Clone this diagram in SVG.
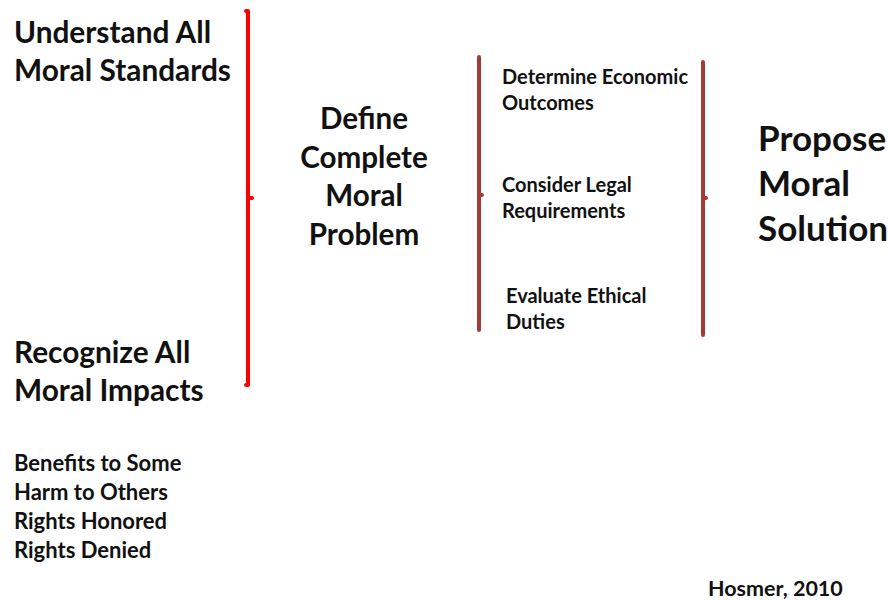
<svg xmlns="http://www.w3.org/2000/svg" width="888" height="600" viewBox="0 0 888 600">
<style>
text{font-family:Lato,"Open Sans","Liberation Sans",sans-serif;font-weight:bold;fill:#111}
.l{font-size:29.8px}
.c{font-size:29.6px;text-anchor:middle}
.s{font-size:20px}
.b{font-size:35px}
.m{font-size:22px}
.h{font-size:21.5px}
.red{stroke:#ff0000;stroke-width:4;fill:none;stroke-linecap:round;stroke-linejoin:round}
.br{stroke:#a33a3a;stroke-width:4;fill:none;stroke-linecap:round;stroke-linejoin:round}
</style>
<rect width="888" height="600" fill="#fff"/>
<g id="connectors">
<path class="red" d="M246 11 L248 11 L248 198 L252 198 M248 198 L248 385 L246 385"/>
<path class="br" d="M479 57 L479 330 M479 195 L482 195"/>
<path class="br" d="M703 62 L703 335 M703 198 L706 198"/>
</g>
<g id="understand"><text class="l" x="14" y="43">Understand All</text><text class="l" x="14" y="81">Moral Standards</text></g>
<g id="recognize"><text class="l" x="14" y="363">Recognize All</text><text class="l" x="14" y="401">Moral Impacts</text></g>
<g id="impacts"><text class="m" x="14" y="471">Benefits to Some</text><text class="m" x="14" y="500">Harm to Others</text><text class="m" x="14" y="529">Rights Honored</text><text class="m" x="14" y="558">Rights Denied</text></g>
<g id="define"><text class="c" x="364" y="129">Define</text><text class="c" x="364" y="168">Complete</text><text class="c" x="364" y="206">Moral</text><text class="c" x="364" y="245">Problem</text></g>
<g id="economic"><text class="s" x="502" y="84">Determine Economic</text><text class="s" x="502" y="110">Outcomes</text></g>
<g id="legal"><text class="s" x="502" y="192">Consider Legal</text><text class="s" x="502" y="218">Requirements</text></g>
<g id="ethical"><text class="s" x="506" y="303">Evaluate Ethical</text><text class="s" x="506" y="329">Duties</text></g>
<g id="propose"><text class="b" x="758" y="151">Propose</text><text class="b" x="758" y="196">Moral</text><text class="b" x="758" y="241">Solution</text></g>
<g id="citation"><text class="h" x="708" y="596">Hosmer, 2010</text></g>
</svg>
